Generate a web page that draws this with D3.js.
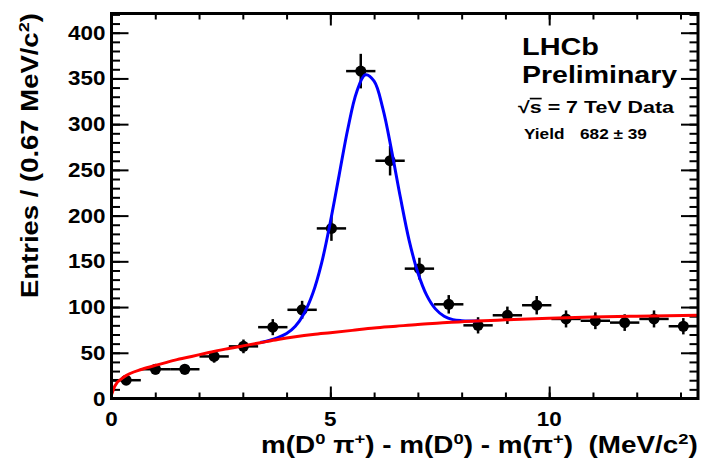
<!DOCTYPE html>
<html>
<head>
<meta charset="utf-8">
<script src="https://cdn.jsdelivr.net/npm/d3@7"></script>
<style>
  body { margin: 0; background: #fff; }
  text { font-family: "Liberation Sans", Arial, Helvetica, sans-serif; font-weight: bold; fill: #000; white-space: pre; }
</style>
</head>
<body>
<svg id="chart" width="702" height="466"></svg>
<script>
// ---------- data ----------
const binCenters = [0.335, 1.005, 1.675, 2.345, 3.015, 3.685, 4.355, 5.025, 5.695, 6.365,
                    7.035, 7.705, 8.375, 9.045, 9.715, 10.385, 11.055, 11.725, 12.395, 13.065];
const binHalfWidth = 0.335;
const counts = [20, 32, 32, 46, 57, 78, 97, 186, 358, 260, 142, 103, 80, 91, 102, 87, 85, 83, 87, 79];
const countErrors = [4.5, 5.7, 5.7, 6.8, 7.5, 8.8, 9.8, 13.6, 18.9, 16.1, 11.9, 10.1, 8.9, 9.5, 10.1, 9.3, 9.2, 9.1, 9.3, 8.9];

// background fit curve (red)
const bgX = [0, 0.08, 0.3, 0.7, 1.07, 1.45, 1.83, 2.2, 2.6, 3.0, 3.4, 3.8, 4.2, 4.6, 5.0, 5.5, 6.0, 6.5, 7.0, 7.5, 8.0, 8.5, 9.0, 10.0, 11.0, 12.0, 13.4];
const bgY = [4, 14, 24, 32, 37, 42, 46, 50, 54, 57.5, 61, 64.5, 67.5, 70, 72, 74.5, 77, 79, 81, 82.5, 84, 85, 86, 87.8, 89, 90, 91];

// total fit curve (blue)
const totX = [3.4, 3.6, 3.8, 4.0, 4.2, 4.4, 4.6, 4.8, 5.0, 5.2, 5.4, 5.6, 5.8, 6.0, 6.2, 6.4, 6.6, 6.8, 7.0, 7.2, 7.4, 7.6, 7.8, 8.0, 8.2, 8.4];
const totY = [61.2, 63.5, 66.5, 71, 79, 93, 115, 148, 193, 244, 295, 335, 354, 347, 317, 271, 220, 173, 137.5, 113, 98, 90, 86.3, 85.1, 84.8, 85];

// axis ticks
const xMajorTicks = [0, 5, 10];
const xMinorTicks = [0, 1, 2, 3, 4, 5, 6, 7, 8, 9, 10, 11, 12, 13];
const yMajorTicks = [0, 50, 100, 150, 200, 250, 300, 350, 400];
const yMinorTicks = d3.range(0, 421, 10);
const xDomain = [0, 13.4];
const yDomain = [0, 421];

// ---------- layout ----------
const L = 111.5, R = 698, T = 13.5, B = 398.5;
const svg = d3.select("#chart");
const x = d3.scaleLinear().domain(xDomain).range([L, R]);
const y = d3.scaleLinear().domain(yDomain).range([B, T]);

// ---------- axes ticks ----------
function ticks(axis, tx, ty) {
  const g = svg.append("g").attr("transform", `translate(${tx},${ty})`).call(axis);
  g.select(".domain").remove();
  g.selectAll("line").attr("stroke", "#000").attr("stroke-width", 2);
  g.selectAll("text").remove();
}
ticks(d3.axisBottom(x).tickValues(xMajorTicks).tickSize(-12).tickSizeOuter(0), 0, B);
ticks(d3.axisBottom(x).tickValues(xMinorTicks).tickSize(-6).tickSizeOuter(0), 0, B);
ticks(d3.axisTop(x).tickValues(xMajorTicks).tickSize(-12).tickSizeOuter(0), 0, T);
ticks(d3.axisTop(x).tickValues(xMinorTicks).tickSize(-6).tickSizeOuter(0), 0, T);
ticks(d3.axisLeft(y).tickValues(yMajorTicks).tickSize(-17).tickSizeOuter(0), L, 0);
ticks(d3.axisLeft(y).tickValues(yMinorTicks).tickSize(-8.5).tickSizeOuter(0), L, 0);
ticks(d3.axisRight(y).tickValues(yMajorTicks).tickSize(-17).tickSizeOuter(0), R, 0);
ticks(d3.axisRight(y).tickValues(yMinorTicks).tickSize(-8.5).tickSizeOuter(0), R, 0);

// tick labels
const labK = 1.15;
svg.append("g").selectAll("text").data(yMajorTicks).join("text")
  .attr("text-anchor", "end").attr("font-size", 19.5).attr("dy", "0.36em")
  .attr("transform", d => `translate(${L - 6},${y(d)}) scale(${labK},1)`)
  .text(d => d);
svg.append("g").selectAll("text").data(xMajorTicks).join("text")
  .attr("text-anchor", "middle").attr("font-size", 19.5)
  .attr("transform", d => `translate(${x(d)},426) scale(${labK},1)`)
  .text(d => d);

// ---------- data points ----------
const pts = svg.append("g");
binCenters.forEach((c, i) => {
  pts.append("line").attr("x1", x(c - binHalfWidth)).attr("x2", x(c + binHalfWidth))
    .attr("y1", y(counts[i])).attr("y2", y(counts[i]))
    .attr("stroke", "#000").attr("stroke-width", 2.5);
  pts.append("line").attr("x1", x(c)).attr("x2", x(c))
    .attr("y1", y(counts[i] - countErrors[i])).attr("y2", y(counts[i] + countErrors[i]))
    .attr("stroke", "#000").attr("stroke-width", 2.5);
  pts.append("circle").attr("cx", x(c)).attr("cy", y(counts[i])).attr("r", 5.5).attr("fill", "#000");
});

// ---------- curves ----------
const line = d3.line().x(d => x(d[0])).y(d => y(d[1])).curve(d3.curveCatmullRom.alpha(0.5));
svg.append("path").datum(d3.zip(totX, totY)).attr("d", line)
  .attr("fill", "none").attr("stroke", "#0000ff").attr("stroke-width", 3);
svg.append("path").datum(d3.zip(bgX, bgY)).attr("d", d3.line().x(d => x(d[0])).y(d => y(d[1])).curve(d3.curveMonotoneX))
  .attr("fill", "none").attr("stroke", "#ff0000").attr("stroke-width", 3);

// ---------- frame ----------
svg.append("rect").attr("x", L).attr("y", T).attr("width", R - L).attr("height", B - T)
  .attr("fill", "none").attr("stroke", "#000").attr("stroke-width", 3);

// ---------- text helpers ----------
function richText(parent, segs, size) {
  const t = parent.append("text").attr("font-size", size);
  let shifted = false;
  segs.forEach(s => {
    const sp = t.append("tspan").text(s.t);
    if (s.sup) {
      sp.attr("font-size", size * 0.66).attr("dy", -size * 0.38);
      shifted = true;
    } else if (shifted) {
      sp.attr("dy", size * 0.38);
      shifted = false;
    }
    if (s.over) sp.style("text-decoration", "overline");
  });
  return t;
}
function fitAt(t, tx, ty, width, rot) {
  const w = t.node().getBBox().width;
  const k = width / w;
  t.attr("transform", `translate(${tx},${ty})` + (rot ? ` rotate(${rot})` : "") + ` scale(${k},1)`);
}

// axis titles
const xt = richText(svg, [
  {t: "m(D"}, {t: "0", sup: true}, {t: " π"}, {t: "+", sup: true}, {t: ") - m(D"}, {t: "0", sup: true},
  {t: ") - m(π"}, {t: "+", sup: true}, {t: ")  (MeV/c"}, {t: "2", sup: true}, {t: ")"}
], 23);
fitAt(xt, 261, 453, 437);

const yt = richText(svg, [{t: "Entries / (0.67 MeV/c"}, {t: "2", sup: true}, {t: ")"}], 23);
fitAt(yt, 38, 298, 285, -90);

// annotations
fitAt(richText(svg, [{t: "LHCb"}], 24), 522, 55, 77);
fitAt(richText(svg, [{t: "Preliminary"}], 24), 522, 82.5, 156);
fitAt(richText(svg, [{t: "√"}, {t: "s", over: true}, {t: " = 7 TeV Data"}], 16.5), 518, 113.3, 157);
fitAt(richText(svg, [{t: "Yield"}], 14.5), 524, 139.3, 40.5);
fitAt(richText(svg, [{t: "682 ± 39"}], 14.5), 580, 139.3, 67);
</script>
</body>
</html>
